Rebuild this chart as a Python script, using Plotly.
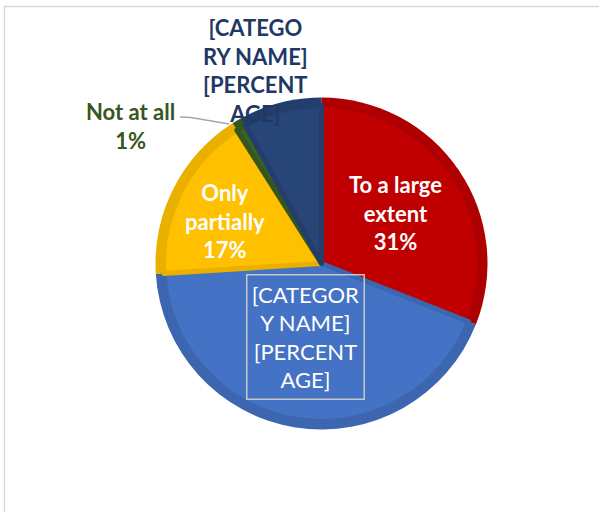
import plotly.graph_objects as go

# ---- data ----
categories = ["To a large extent", "[CATEGORY NAME]", "Only partially", "Not at all", "[CATEGORY NAME] "]
values = [31, 43, 17, 1, 8]
label_texts = [
    "To a large<br>extent<br>31%",
    "[CATEGOR<br>Y NAME]<br>[PERCENT<br>AGE]",
    "Only<br>partially<br>17%",
    "Not at all<br>1%",
    "[CATEGO<br>RY NAME]<br>[PERCENT<br>AGE]",
]

fill_colors = ["#C00000", "#4472C4", "#FFC000", "#3D6125", "#284577"]
band_colors = ["#AE0000", "#3D66B1", "#E9B000", "#35561F", "#233D6C"]

W, H = 599, 512
cx, cy, R, r_in = 321.5, 263.5, 166, 158


def px_x(x):
    return x / W


def px_y(y):
    return 1 - y / H


def domain(rad):
    return dict(x=[px_x(cx - rad), px_x(cx + rad)],
                y=[px_y(cy + rad), px_y(cy - rad)])


fig = go.Figure()
fig.add_trace(go.Pie(
    labels=categories, values=values, sort=False, direction="clockwise",
    rotation=0, textinfo="none", hoverinfo="label+percent",
    marker=dict(colors=band_colors, line=dict(width=0)),
    domain=domain(R), showlegend=False,
))
fig.add_trace(go.Pie(
    labels=categories, values=values, sort=False, direction="clockwise",
    rotation=0, textinfo="none", hoverinfo="skip",
    marker=dict(colors=fill_colors, line=dict(color=band_colors, width=5)),
    domain=domain(r_in), showlegend=False,
))

font_family = "Lato, 'Open Sans', sans-serif"
ann = [
    dict(text=label_texts[0], x=395, y=212.5, color="white", bold=True),
    dict(text=label_texts[2], x=225, y=221, color="white", bold=True),
    dict(text=label_texts[3], x=130, y=125.5, color="#375623", bold=True),
    dict(text=label_texts[4], x=255, y=70, color="#1F3864", bold=True),
]
for a in ann:
    t = f"<b>{a['text']}</b>" if a["bold"] else a["text"]
    fig.add_annotation(
        text=t, x=px_x(a["x"]), y=px_y(a["y"]), xref="paper", yref="paper",
        xanchor="center", yanchor="middle", showarrow=False, align="center",
        font=dict(family=font_family, size=22, color=a["color"]),
    )

# boxed label of the big blue slice
fig.add_annotation(
    text=label_texts[1], x=px_x(305), y=px_y(336.5), xref="paper", yref="paper",
    xanchor="center", yanchor="middle", showarrow=False, align="center",
    font=dict(family=font_family, size=22, color="white"),
    bordercolor="#C8C8C8", borderwidth=1.5, borderpad=3, width=110, height=117,
)

# leader line for "Not at all"
fig.add_shape(
    type="path", xref="paper", yref="paper",
    path=f"M {px_x(180)},{px_y(117)} L {px_x(191)},{px_y(117.5)} L {px_x(229)},{px_y(124)}",
    line=dict(color="#A6A6A6", width=1.3),
)

# chart border (partly outside the view)
fig.add_shape(
    type="rect", xref="paper", yref="paper",
    x0=px_x(4.5), x1=1.2, y0=-0.2, y1=px_y(6.5),
    line=dict(color="#D9D9D9", width=1.5), fillcolor="rgba(0,0,0,0)", layer="below",
)

fig.update_layout(
    width=W, height=H, margin=dict(l=0, r=0, t=0, b=0),
    paper_bgcolor="white", plot_bgcolor="white",
)

fig.write_html(
    "out.html",
    config={"displayModeBar": False},
    post_script="document.body.style.margin='0';document.body.style.overflow='hidden';",
)
